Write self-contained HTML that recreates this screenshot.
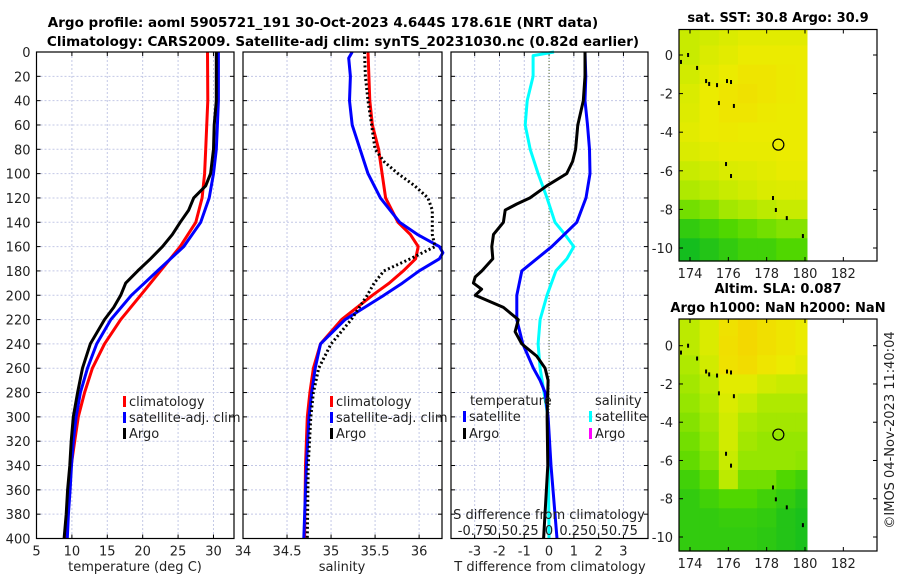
<!DOCTYPE html>
<html><head><meta charset="utf-8"><style>
html,body{margin:0;padding:0;background:#fff}
svg{display:block;font-family:"DejaVu Sans","Liberation Sans",sans-serif}
</style></head><body>
<svg id="fig" width="900" height="580" viewBox="0 0 900 580" xmlns="http://www.w3.org/2000/svg">
<text x="323" y="27" font-size="13.5" font-weight="bold" text-anchor="middle">Argo profile: aoml 5905721_191 30-Oct-2023 4.644S 178.61E (NRT data)</text>
<text x="343" y="46" font-size="13.5" font-weight="bold" text-anchor="middle">Climatology: CARS2009. Satellite-adj clim: synTS_20231030.nc (0.82d earlier)</text>
<text x="778" y="22" font-size="13" font-weight="bold" text-anchor="middle">sat. SST: 30.8 Argo: 30.9</text>
<text x="778" y="293" font-size="13" font-weight="bold" text-anchor="middle">Altim. SLA: 0.087</text>
<text x="778" y="312" font-size="13" font-weight="bold" text-anchor="middle">Argo h1000: NaN h2000: NaN</text>
<text transform="translate(894,430) rotate(-90)" font-size="13" text-anchor="middle" fill="#222">©IMOS 04-Nov-2023 11:40:04</text>
<g id="g"></g>
</svg>
<script>
// ---------- data ----------
const depthTicks=[0,20,40,60,80,100,120,140,160,180,200,220,240,260,280,300,320,340,360,380,400];
const tempTicks=[5,10,15,20,25,30];
const salTicks=[34,34.5,35,35.5,36];
const dTTicks=[-3,-2,-1,0,1,2,3];
const dSTicks=[-0.75,-0.5,-0.25,0,0.25,0.5,0.75];
const dSTickLabels=["-0.75","0.5","0.25","0","0.25","0.5","0.75"];

const tClimD=[0,40,80,100,120,140,160,180,200,220,240,260,280,300,320,340,360,380,400];
const tClimV=[29.15,29.2,28.9,28.75,28.4,27.5,25.3,22.5,19.7,16.9,14.6,12.9,11.8,10.9,10.4,9.9,9.6,9.4,9.1];
const tSatD=[0,40,60,80,100,120,140,160,180,200,220,240,260,280,300,320,340,360,380,400];
const tSatV=[30.7,30.7,30.55,30.4,30.0,29.4,28.2,25.8,22.1,18.4,15.5,13.5,12.2,11.2,10.6,10.2,9.95,9.75,9.5,9.35];
const tArgoD=[0,40,60,80,100,110,120,130,140,150,160,170,180,190,200,210,220,230,240,260,280,300,320,340,360,380,400];
const tArgoV=[30.4,30.4,30.1,30.0,29.6,28.9,27.2,26.5,25.3,24.2,22.8,21.1,19.3,17.6,16.9,15.9,14.6,13.6,12.6,11.5,10.8,10.2,9.9,9.7,9.4,9.2,8.9];

const sClimD=[0,20,40,60,80,100,120,140,150,160,170,180,190,200,220,240,260,280,300,340,400];
const sClimV=[35.42,35.43,35.44,35.47,35.54,35.58,35.62,35.76,35.9,35.99,35.96,35.82,35.66,35.47,35.12,34.88,34.8,34.76,34.73,34.71,34.7];
const sSatD=[0,5,20,40,60,80,100,120,140,150,160,165,170,180,190,200,220,240,260,280,300,340,400];
const sSatV=[35.24,35.2,35.22,35.21,35.24,35.33,35.42,35.56,35.78,35.98,36.23,36.27,36.23,36.0,35.81,35.6,35.16,34.88,34.82,34.78,34.75,34.72,34.69];
const sArgoD=[0,20,40,60,80,90,100,110,120,130,140,150,160,170,180,190,200,220,240,260,280,300,340,400];
const sArgoV=[35.38,35.39,35.42,35.46,35.5,35.6,35.76,35.95,36.1,36.15,36.15,36.15,36.18,35.9,35.6,35.49,35.41,35.23,35.0,34.86,34.8,34.77,34.74,34.73];

const dTSatD=[0,20,40,60,80,100,120,140,160,180,200,220,240,260,270,280,300,340,370,400];
const dTSatV=[1.45,1.48,1.45,1.55,1.63,1.65,1.49,1.12,0.11,-1.1,-1.3,-1.3,-1.06,-0.63,-0.36,-0.16,-0.04,0.08,0.2,0.32];
const dTArgoD=[0,20,40,60,80,90,100,110,120,125,130,140,150,160,170,180,185,190,195,200,210,220,230,240,250,260,270,300,340,400];
const dTArgoV=[1.45,1.45,1.38,1.16,1.07,0.95,0.71,-0.09,-0.77,-1.3,-1.77,-1.84,-2.24,-2.31,-2.27,-2.71,-2.98,-3.05,-2.72,-2.98,-1.84,-1.24,-1.37,-1.1,-0.5,-0.16,-0.04,-0.08,-0.05,-0.22];
const dSSatD=[0,3,20,40,60,80,100,120,140,150,160,170,180,200,220,240,260,270,300,400];
const dSSatV=[0.05,-0.16,-0.16,-0.22,-0.24,-0.19,-0.11,-0.02,0.06,0.16,0.25,0.18,0.07,-0.02,-0.09,-0.11,-0.09,-0.07,-0.01,0.0];

const lonTicks=[174,176,178,180,182];
const latTicks=[0,-2,-4,-6,-8,-10];
const cellLons=[173.4,174.5,175.5,176.5,177.5,178.5,179.5];
const cellLats=[1.5,0.5,-0.5,-1.5,-2.5,-3.5,-4.5,-5.5,-6.5,-7.5,-8.5,-9.5];
const sstGrid=[
[0.6,0.65,0.7,0.75,0.75,0.75,0.75],
[0.6,0.7,0.75,0.8,0.8,0.8,0.8],
[0.65,0.75,0.8,0.85,0.85,0.82,0.8],
[0.7,0.8,0.85,0.88,0.85,0.82,0.8],
[0.72,0.8,0.85,0.85,0.82,0.8,0.8],
[0.75,0.8,0.82,0.8,0.8,0.8,0.8],
[0.7,0.75,0.78,0.78,0.78,0.8,0.8],
[0.6,0.65,0.7,0.72,0.75,0.78,0.78],
[0.5,0.55,0.6,0.65,0.7,0.72,0.72],
[0.3,0.35,0.45,0.5,0.55,0.6,0.6],
[0.1,0.15,0.2,0.25,0.3,0.35,0.35],
[0.0,0.05,0.1,0.15,0.15,0.2,0.2]];
const slaGrid=[
[0.55,0.7,0.88,0.95,0.9,0.85,0.8],
[0.55,0.7,0.9,0.95,0.9,0.85,0.8],
[0.5,0.65,0.88,0.92,0.85,0.8,0.75],
[0.45,0.55,0.75,0.75,0.65,0.6,0.6],
[0.4,0.5,0.7,0.6,0.5,0.5,0.5],
[0.35,0.45,0.65,0.5,0.45,0.45,0.45],
[0.3,0.4,0.65,0.45,0.4,0.4,0.4],
[0.25,0.35,0.6,0.4,0.4,0.4,0.38],
[0.15,0.25,0.55,0.3,0.3,0.2,0.15],
[0.1,0.15,0.2,0.2,0.15,0.1,0.05],
[0.1,0.1,0.12,0.12,0.1,0.05,0.02],
[0.1,0.1,0.1,0.1,0.08,0.05,0.02]];
const islandLon=[173.53,173.9,174.37,174.84,175.0,175.41,175.93,176.14,175.51,176.29,175.88,176.14,178.33,178.48,179.05,179.89];
const islandLat=[-0.36,0.0,-0.67,-1.35,-1.5,-1.56,-1.35,-1.4,-2.49,-2.64,-5.65,-6.27,-7.41,-8.03,-8.45,-9.38];
const argoLon=178.61, argoLat=-4.644;

// ---------- helpers ----------
const NS="http://www.w3.org/2000/svg";
const G=document.getElementById('g');
function mk(tag,attrs,parent){const e=document.createElementNS(NS,tag);for(const k in attrs)e.setAttribute(k,attrs[k]);(parent||G).appendChild(e);return e;}
const Y0=52,Y1=538.5;
const yD=d=>Y0+(d/400)*(Y1-Y0);
function lin(a,b,p,q){return v=>p+(v-a)/(b-a)*(q-p);}
const panels=[
 {name:'temperature',x0:36.5,x1:234,min:5,max:32.9},
 {name:'salinity',x0:243,x1:442,min:34,max:36.26},
 {name:'difference',x0:451,x1:648,min:-3.955,max:3.99}
];
panels.forEach(p=>p.sx=lin(p.min,p.max,p.x0,p.x1));
const dSx=lin(-0.25,0.25,549-24.8,549+24.8);

function panelFrame(p,xt,showY){
  const gr=mk('g',{});
  
  
  mk('rect',{x:p.x0,y:Y0,width:p.x1-p.x0,height:Y1-Y0,fill:'#fff'},gr);
  depthTicks.forEach(d=>{
    if(d>0&&d<400){const l=mk('line',{x1:p.x0,x2:p.x1,y1:yD(d),y2:yD(d),stroke:'#c3c8e6','stroke-width':1,'stroke-dasharray':'2,2'},gr);
    
    }
    mk('line',{x1:p.x0,x2:p.x0+4,y1:yD(d),y2:yD(d),stroke:'#000'},gr);
    mk('line',{x1:p.x1,x2:p.x1-4,y1:yD(d),y2:yD(d),stroke:'#000'},gr);
    if(showY){const t=mk('text',{x:p.x0-6,y:yD(d)+5,'font-size':13,'text-anchor':'end',fill:'#222'},gr);t.textContent=d;
    
    }
  });
  xt.forEach(v=>{
    const x=p.sx(v);
    if(x>p.x0+1&&x<p.x1-1){const l=mk('line',{x1:x,x2:x,y1:Y0,y2:Y1,stroke:'#c3c8e6','stroke-width':1,'stroke-dasharray':'2,2'},gr);
    
    }
    mk('line',{x1:x,x2:x,y1:Y1,y2:Y1-4,stroke:'#000'},gr);
    mk('line',{x1:x,x2:x,y1:Y0,y2:Y0+4,stroke:'#000'},gr);
    const t=mk('text',{x:x,y:Y1+17,'font-size':13,'text-anchor':'middle',fill:'#222'},gr);t.textContent=v;
    
    
  });
  return gr;
}
function series(gr,D,V,sx,color,name,dash){
  const pts=D.map((d,i)=>sx(V[i]).toFixed(1)+','+yD(d).toFixed(1)).join(' ');
  const a={points:pts,fill:'none',stroke:color,'stroke-width':3,'stroke-linejoin':'round'};
  if(dash)a['stroke-dasharray']=dash;
  const e=mk('polyline',a,gr);
  
  
}
function border(gr,p){mk('rect',{x:p.x0,y:Y0,width:p.x1-p.x0,height:Y1-Y0,fill:'none',stroke:'#000','stroke-width':1.2},gr);}
function legendItem(gr,x,y,color,label,name){
  const m=mk('rect',{x:x,y:y-10,width:3,height:11,fill:color},gr);
  
  
  const t=mk('text',{x:x+6,y:y,'font-size':13,fill:'#222'},gr);t.textContent=label;
  
  
}

// panel 1
let p=panels[0];let g1=panelFrame(p,tempTicks,true);
series(g1,tClimD,tClimV,p.sx,'#ff0000','temp-climatology-line');
series(g1,tSatD,tSatV,p.sx,'#0000ff','temp-satellite-line');
series(g1,tArgoD,tArgoV,p.sx,'#000000','temp-argo-line');
legendItem(g1,123,406,'#ff0000','climatology','legend-climatology');
legendItem(g1,123,422,'#0000ff','satellite-adj. clim','legend-satellite');
legendItem(g1,123,438,'#000000','Argo','legend-argo');
border(g1,p);
let tl=mk('text',{x:135,y:571,'font-size':13,'text-anchor':'middle',fill:'#222'},g1);tl.textContent='temperature (deg C)';



// panel 2
p=panels[1];let g2=panelFrame(p,salTicks,false);
series(g2,sClimD,sClimV,p.sx,'#ff0000','sal-climatology-line');
series(g2,sSatD,sSatV,p.sx,'#0000ff','sal-satellite-line');
series(g2,sArgoD,sArgoV,p.sx,'#000000','sal-argo-line','2,2.5');
legendItem(g2,330,406,'#ff0000','climatology','legend-climatology');
legendItem(g2,330,422,'#0000ff','satellite-adj. clim','legend-satellite');
legendItem(g2,330,438,'#000000','Argo','legend-argo');
border(g2,p);
tl=mk('text',{x:342,y:571,'font-size':13,'text-anchor':'middle',fill:'#222'},g2);tl.textContent='salinity';



// panel 3
p=panels[2];let g3=panelFrame(p,dTTicks,false);
let zl=mk('line',{x1:p.sx(0),x2:p.sx(0),y1:Y0,y2:Y1,stroke:'#556b2f','stroke-width':1,'stroke-dasharray':'1,2'},g3);


series(g3,dSSatD,dSSatV,dSx,'#00ffff','sdiff-satellite-line');
series(g3,dTSatD,dTSatV,p.sx,'#0000ff','tdiff-satellite-line');
series(g3,dTArgoD,dTArgoV,p.sx,'#000000','tdiff-argo-line');
let lt=mk('text',{x:470,y:405,'font-size':13,fill:'#222'},g3);lt.textContent='temperature';


lt=mk('text',{x:595,y:405,'font-size':13,fill:'#222'},g3);lt.textContent='salinity';


legendItem(g3,463,421,'#0000ff','satellite','legend-tdiff-satellite');
legendItem(g3,463,438,'#000000','Argo','legend-tdiff-argo');
legendItem(g3,589,421,'#00ffff','satellite','legend-sdiff-satellite');
legendItem(g3,589,438,'#ff00ff','Argo','legend-sdiff-argo');
lt=mk('text',{x:549,y:519,'font-size':13,'text-anchor':'middle',fill:'#222'},g3);lt.textContent='S difference from climatology';


dSTicks.forEach((v,i)=>{
  const t=mk('text',{x:dSx(v),y:535,'font-size':13,'text-anchor':'middle',fill:'#222'},g3);t.textContent=dSTickLabels[i];
  
  
});
border(g3,p);
tl=mk('text',{x:550,y:571,'font-size':13,'text-anchor':'middle',fill:'#222'},g3);tl.textContent='T difference from climatology';



// ---------- maps ----------
const stops=[[0,[20,190,30]],[0.2,[80,215,0]],[0.4,[150,230,0]],[0.6,[200,235,0]],[0.8,[235,235,0]],[1,[245,210,0]]];
function cmap(v){for(let i=1;i<stops.length;i++){if(v<=stops[i][0]){const a=stops[i-1],b=stops[i];const t=(v-a[0])/(b[0]-a[0]);return 'rgb('+a[1].map((c,k)=>Math.round(c+(b[1][k]-c)*t)).join(',')+')';}}return 'rgb(245,210,0)';}
function drawMap(name,box,grid){
  const gr=mk('g',{});
  
  
  const sx=lin(174,180,box.lx174,box.lx180), sy=lin(0,-10,box.ly0,box.ly10);
  mk('rect',{x:box.x0,y:box.y0,width:box.x1-box.x0,height:box.y1-box.y0,fill:'#fff'},gr);
  const lonEnd=180.1;
  grid.forEach((row,r)=>{
    row.forEach((v,c)=>{
      const la=cellLons[c], lb=c+1<cellLons.length?cellLons[c+1]:lonEnd;
      const xa=Math.max(box.x0,sx(la)), xb=sx(lb);
      const ya=Math.max(box.y0,sy(cellLats[r])), yb=r+1<cellLats.length?sy(cellLats[r+1]):box.y1;
      const cell=mk('rect',{x:xa.toFixed(1),y:ya.toFixed(1),width:(xb-xa+0.6).toFixed(1),height:(Math.min(yb,box.y1)-ya+0.6).toFixed(1),fill:cmap(v)},gr);
      
      
    });
  });
  islandLon.forEach((lo,i)=>{
    const is=mk('rect',{x:sx(lo)-1,y:sy(islandLat[i])-2,width:2,height:4,fill:'#000'},gr);
    
    
  });
  const c=mk('circle',{cx:sx(argoLon),cy:sy(argoLat),r:5.5,fill:'none',stroke:'#000','stroke-width':1.2},gr);
  
  
  mk('rect',{x:box.x0,y:box.y0,width:box.x1-box.x0,height:box.y1-box.y0,fill:'none',stroke:'#000','stroke-width':1.2},gr);
  lonTicks.forEach(v=>{const x=sx(v);
    mk('line',{x1:x,x2:x,y1:box.y1,y2:box.y1-4,stroke:'#000'},gr);
    mk('line',{x1:x,x2:x,y1:box.y0,y2:box.y0+4,stroke:'#000'},gr);
    const t=mk('text',{x:x,y:box.y1+17,'font-size':13,'text-anchor':'middle',fill:'#222'},gr);t.textContent=v;
    
    });
  latTicks.forEach(v=>{const y=sy(v);
    mk('line',{x1:box.x0,x2:box.x0+4,y1:y,y2:y,stroke:'#000'},gr);
    mk('line',{x1:box.x1,x2:box.x1-4,y1:y,y2:y,stroke:'#000'},gr);
    const t=mk('text',{x:box.x0-6,y:y+5,'font-size':13,'text-anchor':'end',fill:'#222'},gr);t.textContent=v;
    
    });
}
drawMap('sst-map',{x0:679,x1:877,y0:29.5,y1:261,lx174:690,lx180:805,ly0:55,ly10:248},sstGrid);
drawMap('sla-map',{x0:679,x1:877,y0:319,y1:551,lx174:690,lx180:805,ly0:345.7,ly10:537},slaGrid);
</script>
</body></html>
